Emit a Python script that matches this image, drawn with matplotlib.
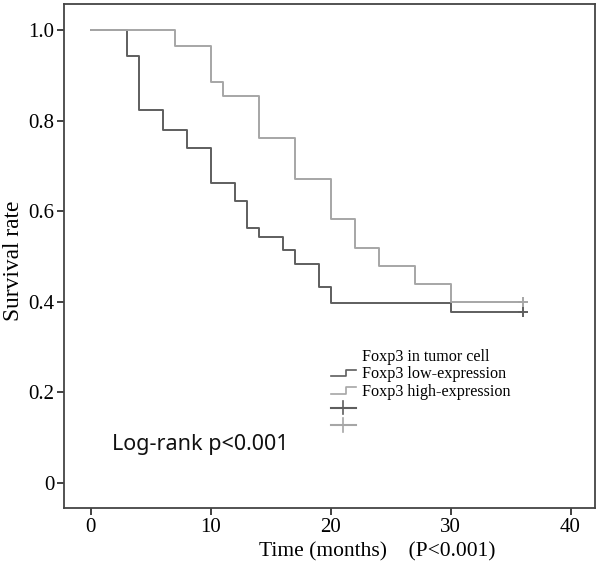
import matplotlib
matplotlib.use("Agg")
import matplotlib.pyplot as plt
from matplotlib.lines import Line2D
from matplotlib.legend_handler import HandlerBase

# ---- data ----
low_times = [0, 3, 4, 6, 8, 10, 12, 13, 14, 16, 17, 19, 20, 30, 36]
low_surv = [1.0, 0.943, 0.823, 0.779, 0.739, 0.662, 0.622, 0.564, 0.542, 0.514, 0.483, 0.433, 0.397, 0.377, 0.377]
high_times = [0, 7, 10, 11, 14, 17, 20, 22, 24, 27, 30, 36]
high_surv = [1.0, 0.965, 0.886, 0.855, 0.761, 0.670, 0.583, 0.518, 0.478, 0.439, 0.399, 0.399]
low_censor_t = [36]
low_censor_s = [0.377]
high_censor_t = [36]
high_censor_s = [0.399]

x_ticks = [0, 10, 20, 30, 40]
y_ticks = [0, 0.2, 0.4, 0.6, 0.8, 1.0]
y_tick_labels = ["0", "0.2", "0.4", "0.6", "0.8", "1.0"]

legend_title = "Foxp3 in tumor cell"
low_label = "Foxp3 low-expression"
high_label = "Foxp3 high-expression"
annot = "Log-rank p<0.001"
xlabel = "Time (months)    (P<0.001)"
ylabel = "Survival rate"

LOW_C = "#5e5e5e"
HIGH_C = "#a6a6a6"
SERIF = ["Liberation Serif", "DejaVu Serif"]

fig = plt.figure(figsize=(6.02, 5.64), dpi=100)
ax = fig.add_axes([64/602, 56/564, 531/602, 504/564])

l_low, = ax.step(low_times, low_surv, where="post", color=LOW_C, lw=1.4)
l_high, = ax.step(high_times, high_surv, where="post", color=HIGH_C, lw=1.4)
ax.plot(low_censor_t, low_censor_s, ls="none", marker="+", ms=7, mew=1.4, color=LOW_C)
ax.plot(high_censor_t, high_censor_s, ls="none", marker="+", ms=7, mew=1.4, color=HIGH_C)

ax.set_xlim(-2.21, 42.04)
ax.set_ylim(-0.0552, 1.0574)
ax.set_xticks(x_ticks)
ax.set_xticklabels([str(t) for t in x_ticks], fontfamily=SERIF, fontsize=15)
ax.set_yticks(y_ticks)
ax.set_yticklabels(y_tick_labels, fontfamily=SERIF, fontsize=15)
ax.tick_params(direction="out", length=5, width=1.3, color="#333333", pad=2)
for s in ax.spines.values():
    s.set_linewidth(1.3)
    s.set_color("#444444")

ax.text(1.77, 0.084, annot, fontfamily=["Noto Sans", "DejaVu Sans"], fontsize=15.5,
        ha="left", va="center", color="#111111")

fig.text(377/602, 1 - 552/564, xlabel, fontfamily=SERIF, fontsize=15.5,
         ha="center", va="center")
fig.text(13.5/602, 1 - 261/564, ylabel, fontfamily=SERIF, fontsize=16.8,
         ha="center", va="center", rotation=90)


class BlankHandler(HandlerBase):
    def create_artists(self, legend, orig_handle, xdescent, ydescent, width, height, fontsize, trans):
        ln = Line2D([-xdescent], [-ydescent], color="none", transform=trans)
        ln.set_visible(False)
        return [ln]


class StepHandler(HandlerBase):
    def create_artists(self, legend, orig_handle, xdescent, ydescent, width, height, fontsize, trans):
        x0 = -xdescent
        xm = x0 + 0.6 * width
        x1 = x0 + width
        y0 = -ydescent + 0.2 * height
        y1 = -ydescent + 0.75 * height
        ln = Line2D([x0, xm, xm, x1], [y0, y0, y1, y1], color=orig_handle.get_color(),
                    lw=1.2, transform=trans)
        return [ln]


class CrossHandler(HandlerBase):
    def create_artists(self, legend, orig_handle, xdescent, ydescent, width, height, fontsize, trans):
        x0 = -xdescent
        x1 = x0 + width
        xc = x0 + 0.5 * width
        yc = -ydescent + 0.5 * height
        c = orig_handle.get_color()
        h = Line2D([x0, x1], [yc, yc], color=c, lw=1.5, transform=trans)
        v = Line2D([xc, xc], [yc - 0.6 * height, yc + 0.6 * height], color=c, lw=1.2, transform=trans)
        return [h, v]


t_blank = Line2D([], [], color="none")
c_low = Line2D([], [], color=LOW_C)
c_high = Line2D([], [], color=HIGH_C)
leg = ax.legend([t_blank, l_low, l_high, c_low, c_high],
                [legend_title, low_label, high_label, " ", " "],
                handler_map={t_blank: BlankHandler(),
                             l_low: StepHandler(), l_high: StepHandler(),
                             c_low: CrossHandler(), c_high: CrossHandler()},
                loc="upper left",
                bbox_to_anchor=((331 - 64) / 531, (508 - 349) / 504),
                frameon=False, borderpad=0, borderaxespad=0,
                handlelength=1.55, handletextpad=0.4, labelspacing=0.09,
                prop={"family": SERIF, "size": 11.6})

fig.savefig("out.png", dpi=100)
